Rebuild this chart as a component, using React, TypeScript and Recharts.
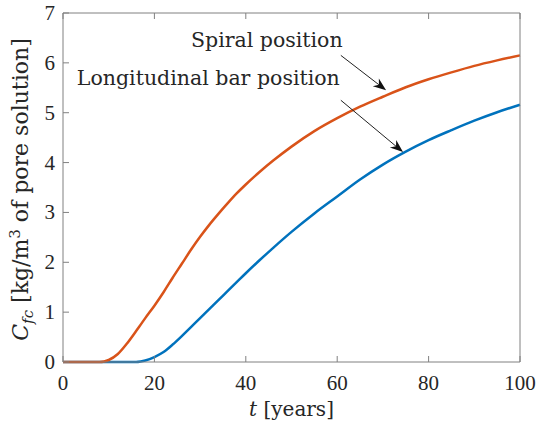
import { LineChart, Line, XAxis, YAxis, ReferenceLine, ReferenceDot } from 'recharts'

const tYears = [0, 4, 8, 9, 10, 12, 14, 16, 17, 18, 20, 22, 24, 26, 28, 30, 32, 34, 36, 38, 40, 43, 46, 50, 55, 60, 65, 70, 75, 80, 85, 90, 95, 100]
const spiral = [0, 0, 0, 0.01, 0.04, 0.16, 0.37, 0.62, 0.75, 0.88, 1.13, 1.4, 1.69, 1.97, 2.25, 2.51, 2.75, 2.97, 3.18, 3.38, 3.56, 3.81, 4.04, 4.32, 4.63, 4.89, 5.12, 5.32, 5.51, 5.67, 5.81, 5.94, 6.05, 6.15]
const longitudinal = [0, 0, 0, 0, 0, 0, 0, 0, 0.01, 0.03, 0.1, 0.2, 0.35, 0.52, 0.7, 0.88, 1.06, 1.24, 1.42, 1.6, 1.78, 2.04, 2.29, 2.61, 2.98, 3.32, 3.66, 3.96, 4.22, 4.45, 4.65, 4.84, 5.01, 5.16]

const xTicks = [0, 20, 40, 60, 80, 100]
const yTicks = [0, 1, 2, 3, 4, 5, 6, 7]

// text labels and arrows (data coordinates)
const notes = [
  { text: 'Spiral position', t: 44.6, v: 6.32, from: [60.8, 6.15], to: [70.7, 5.45] },
  { text: 'Longitudinal bar position', t: 31.8, v: 5.55, from: [60.8, 5.25], to: [74.4, 4.21] },
]

const data = tYears.map((t, i) => ({ t, spiral: spiral[i], longitudinal: longitudinal[i] }))

const AXIS = '#808080'
const INK = '#262626'
const TICK_FONT = '"Liberation Serif", serif'
const TEXT_FONT = '"DejaVu Serif", serif'

function BottomTick({ x, y, payload }: any) {
  return (
    <g>
      <line x1={x} y1={y} x2={x} y2={y - 6} stroke={AXIS} />
      <text x={x} y={y + 28} textAnchor="middle" fill={INK} fontSize={21} fontFamily={TICK_FONT}>
        {payload.value}
      </text>
    </g>
  )
}

function LeftTick({ x, y, payload }: any) {
  return (
    <g>
      <line x1={x} y1={y} x2={x + 6} y2={y} stroke={AXIS} />
      <text x={x - 8} y={y + 7} textAnchor="end" fill={INK} fontSize={21} fontFamily={TICK_FONT}>
        {payload.value}
      </text>
    </g>
  )
}

const TopTick = ({ x, y }: any) => <line x1={x} y1={y} x2={x} y2={y + 6} stroke={AXIS} />
const RightTick = ({ x, y }: any) => <line x1={x} y1={y} x2={x - 6} y2={y} stroke={AXIS} />

function Arrow({ x1, y1, x2, y2 }: any) {
  const a = Math.atan2(y2 - y1, x2 - x1)
  const len = 13
  const w = 5
  const bx = x2 - len * Math.cos(a)
  const by = y2 - len * Math.sin(a)
  const mx = x2 - len * 0.7 * Math.cos(a)
  const my = y2 - len * 0.7 * Math.sin(a)
  const px = -Math.sin(a) * w
  const py = Math.cos(a) * w
  return (
    <g>
      <line x1={x1} y1={y1} x2={mx} y2={my} stroke="#222" strokeWidth={1} />
      <polygon points={`${x2},${y2} ${bx + px},${by + py} ${mx},${my} ${bx - px},${by - py}`} fill="#111" />
    </g>
  )
}

function YLabel({ viewBox }: any) {
  const cy = viewBox.y + viewBox.height / 2 + 2
  return (
    <text
      transform={`translate(28, ${cy}) rotate(-90)`}
      textAnchor="middle"
      fill={INK}
      fontSize={22}
      fontFamily={TEXT_FONT}
    >
      <tspan fontStyle="italic">C</tspan>
      <tspan fontStyle="italic" fontSize={15} dy={5}>fc</tspan>
      <tspan dy={-5}>{' [kg/m'}</tspan>
      <tspan fontSize={15} dy={-8}>3</tspan>
      <tspan dy={8}>{' of pore solution]'}</tspan>
    </text>
  )
}

function XLabel({ viewBox }: any) {
  const cx = viewBox.x + viewBox.width / 2
  return (
    <text x={cx} y={416} textAnchor="middle" fill={INK} fontSize={20} fontFamily={TEXT_FONT}>
      <tspan fontStyle="italic">t</tspan>
      <tspan>{' [years]'}</tspan>
    </text>
  )
}

export default function App() {
  return (
    <div style={{ width: 538, height: 427, background: '#fff' }}>
      <style>{'body{margin:0}'}</style>
      <LineChart width={538} height={427} data={data} margin={{ top: 12, right: 17, left: 0, bottom: 0 }}>
        <XAxis
          dataKey="t"
          type="number"
          domain={[0, 100]}
          ticks={xTicks}
          height={65}
          tickSize={0}
          tickMargin={0}
          tickLine={false}
          axisLine={{ stroke: AXIS }}
          tick={<BottomTick />}
          label={<XLabel />}
        />
        <XAxis
          xAxisId="top"
          dataKey="t"
          type="number"
          domain={[0, 100]}
          ticks={xTicks}
          orientation="top"
          height={1}
          tickSize={0}
          tickMargin={0}
          tickLine={false}
          axisLine={{ stroke: AXIS }}
          tick={<TopTick />}
        />
        <YAxis
          type="number"
          domain={[0, 7]}
          ticks={yTicks}
          width={63}
          tickSize={0}
          tickMargin={0}
          tickLine={false}
          axisLine={{ stroke: AXIS }}
          tick={<LeftTick />}
          label={<YLabel />}
        />
        <YAxis
          yAxisId="right"
          orientation="right"
          type="number"
          domain={[0, 7]}
          ticks={yTicks}
          width={1}
          tickSize={0}
          tickMargin={0}
          tickLine={false}
          axisLine={{ stroke: AXIS }}
          tick={<RightTick />}
        />
        <Line
          dataKey="longitudinal"
          type="monotone"
          stroke="#0072BD"
          strokeWidth={2.5}
          dot={false}
          isAnimationActive={false}
        />
        <Line
          dataKey="spiral"
          type="monotone"
          stroke="#D95319"
          strokeWidth={2.5}
          dot={false}
          isAnimationActive={false}
        />
        {notes.map((n) => (
          <ReferenceLine
            key={n.text + '-arrow'}
            segment={[
              { x: n.from[0], y: n.from[1] },
              { x: n.to[0], y: n.to[1] },
            ]}
            shape={(p: any) => <Arrow {...p} />}
          />
        ))}
        {notes.map((n) => (
          <ReferenceDot
            key={n.text}
            x={n.t}
            y={n.v}
            r={0}
            shape={(p: any) => (
              <text x={p.cx} y={p.cy} textAnchor="middle" fill={INK} fontSize={20.5} fontFamily={TEXT_FONT}>
                {n.text}
              </text>
            )}
          />
        ))}
      </LineChart>
    </div>
  )
}
